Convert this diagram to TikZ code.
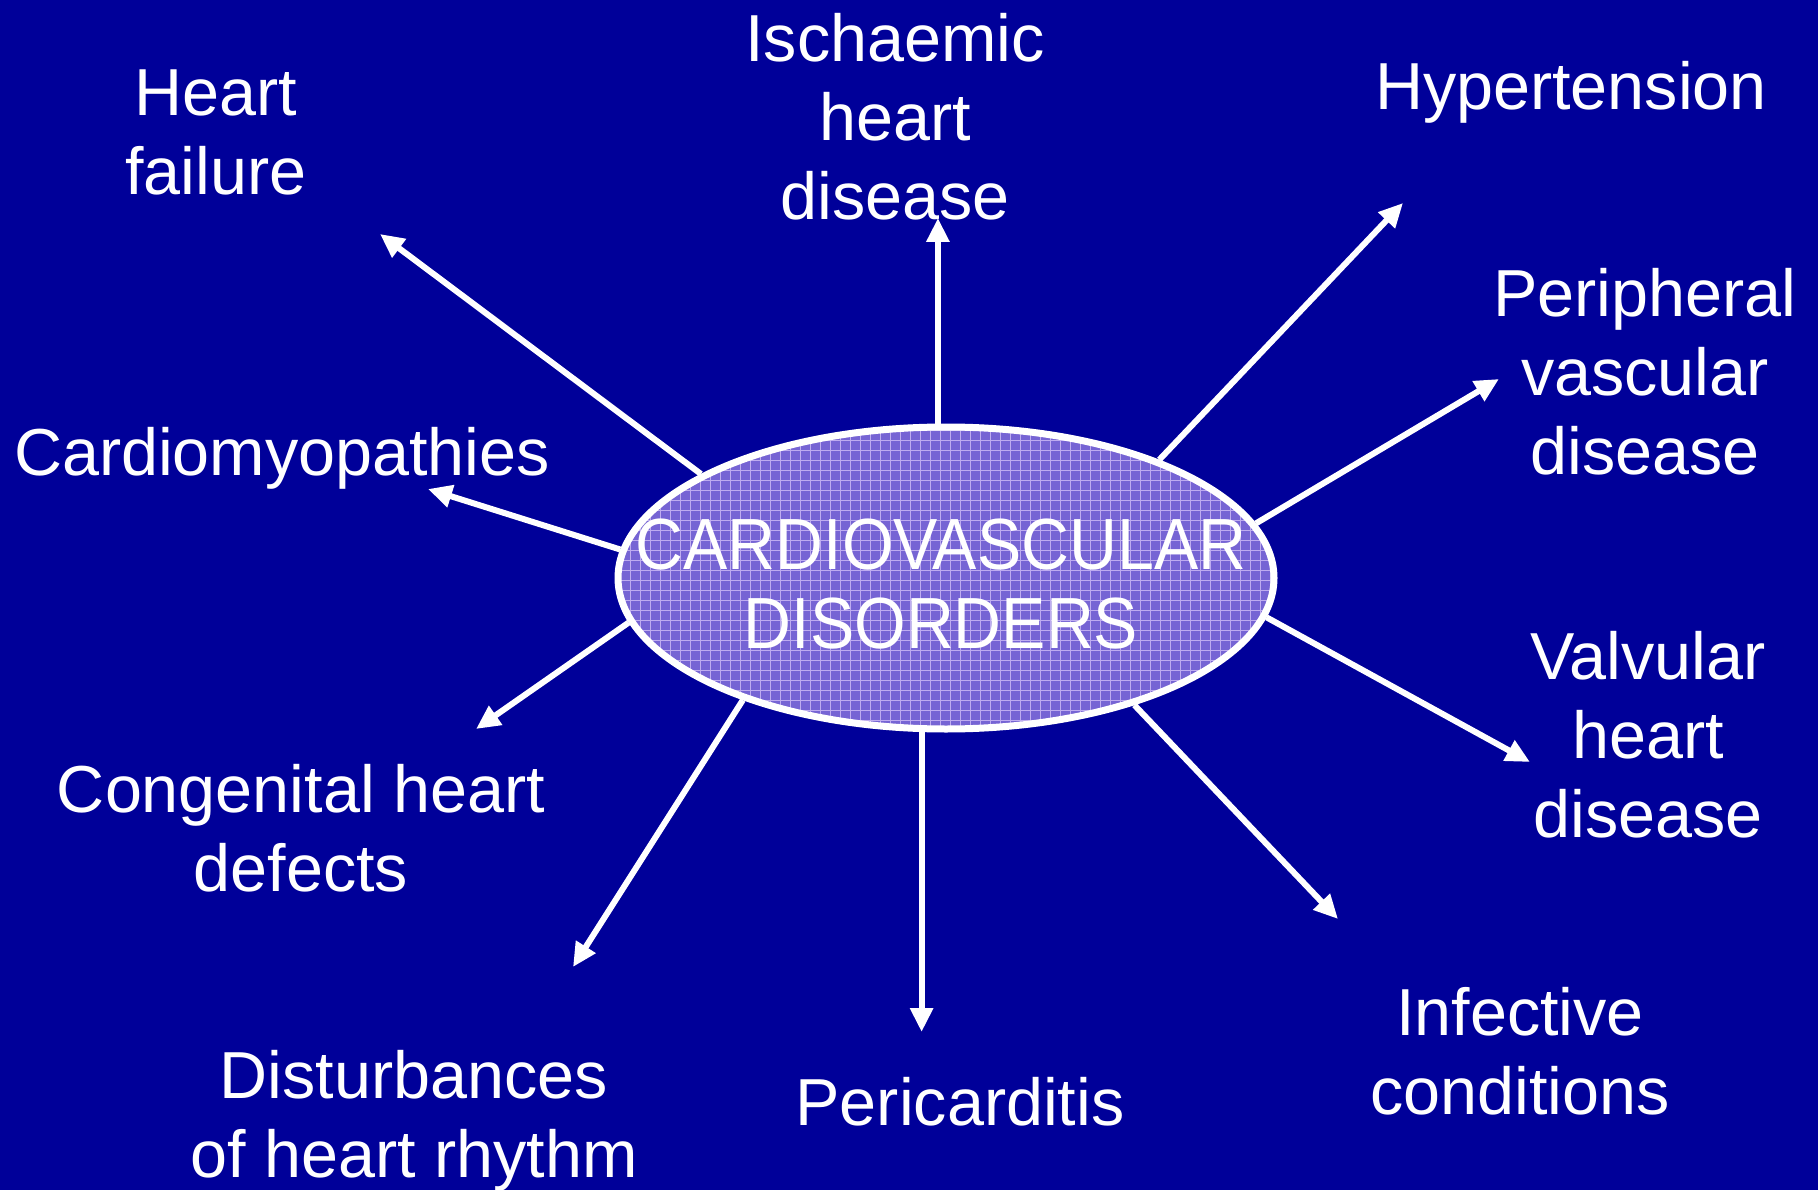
\documentclass[tikz,border=0pt]{standalone}
\usepackage{fontspec}
\setmainfont{Liberation Sans}
\usepackage{graphicx}
\usetikzlibrary{arrows.meta,shapes.geometric}
\definecolor{bgblue}{RGB}{0,0,153}
\definecolor{ellfill}{RGB}{118,100,212}
\definecolor{gridc}{RGB}{190,172,240}
\tikzset{
  lbl/.style={text=white, inner sep=0pt, anchor=north, align=center,
              font=\fontsize{66.5}{79}\selectfont},
  arr/.style={draw=white, line width=6pt,
              -{Triangle[length=24pt,width=22pt]}},
}
\begin{document}
\begin{tikzpicture}[x=1pt,y=-1pt]
\fill[bgblue] (0,0) rectangle (1818,1190);
\useasboundingbox (0,0) rectangle (1818,1190);
% ellipse fill with grid texture
\fill[ellfill] (946,578) ellipse [x radius=328, y radius=151];
\begin{scope}
  \clip (946,578) ellipse [x radius=328, y radius=151];
  \draw[gridc, line width=0.9pt, step=10pt] (600,400) grid (1300,760);
\end{scope}
\node[ellipse, draw=white, line width=7pt, minimum width=656pt,
      minimum height=302pt, inner sep=0pt] (E) at (946,578) {};
\node[text=white, inner sep=0pt, align=center,
      font=\fontsize{72.5}{79}\selectfont] (T) at (941,584)
  {\scalebox{0.915}[1]{CARDIOVASCULAR}\\\scalebox{0.915}[1]{DISORDERS}};
% labels
\node[lbl] (hf)  at (216,70)   {Heart\\failure};
\node[lbl] (ihd) at (895,13)   {Ischaemic\\heart\\disease};
\node[lbl] (hyp) at (1571,61)  {Hypertension};
\node[lbl] (pvd) at (1645,268) {Peripheral\\vascular\\disease};
\node[lbl] (cmp) at (282,427)  {Cardiomyopathies};
\node[lbl] (vhd) at (1648,631) {Valvular\\heart\\disease};
\node[lbl] (chd) at (301,764)  {Congenital heart\\defects};
\node[lbl] (inf) at (1520,987) {Infective\\conditions};
\node[lbl] (per) at (960,1077) {Pericarditis};
\node[lbl] (dis) at (414,1050) {Disturbances\\of heart rhythm};
% arrow tips
\coordinate (thf)  at (380,234);
\coordinate (tihd) at (939,218);
\coordinate (thyp) at (1403,203);
\coordinate (tpvd) at (1499,379);
\coordinate (tcmp) at (428,489);
\coordinate (tchd) at (476,729);
\coordinate (tdis) at (573,967);
\coordinate (tper) at (924,1032);
\coordinate (tinf) at (1338,919);
\coordinate (tvhd) at (1530,762);
% connectors
\draw[arr] (E.157.1) -- (thf);
\draw[arr] (E.93) -- (E.93 |- tihd);
\draw[arr] (E.29.1) -- (thyp);
\draw[arr] (E.10.1) -- (tpvd);
\draw[arr] (E.175.7) -- (tcmp);
\draw[arr] (E.188.2) -- (tchd);
\draw[arr] (E.211.1) -- (tdis);
\draw[arr] (E.261.6) -- (E.261.6 |- tper);
\draw[arr] (E.326.2) -- (tinf);
\draw[arr] (E.353) -- (tvhd);
\end{tikzpicture}
\end{document}
